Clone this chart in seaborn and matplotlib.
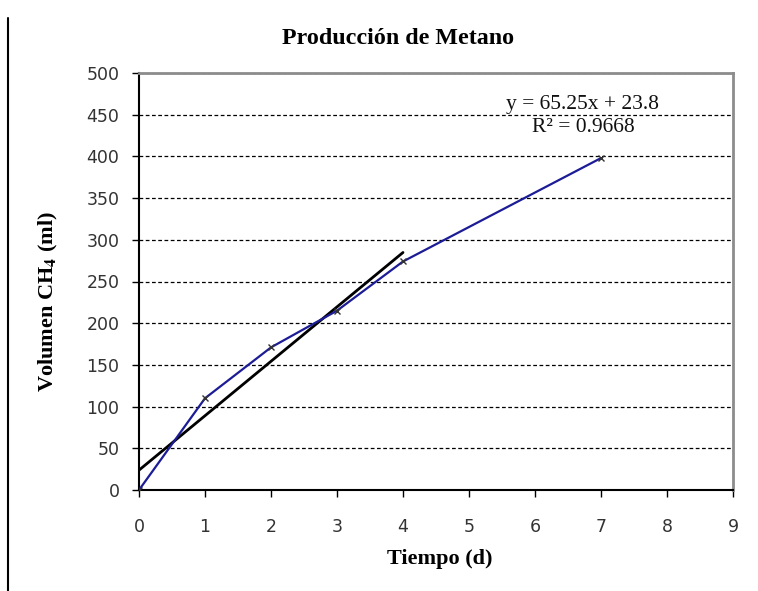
import numpy as np
import pandas as pd
import seaborn as sns
import matplotlib
matplotlib.use("Agg")
import matplotlib.pyplot as plt
from matplotlib.lines import Line2D

# Data
tiempo = [0, 1, 2, 3, 4, 7]
volumen = [0, 110, 171, 215, 274, 398]
fit_slope = 65.25
fit_intercept = 23.8
fit_r2 = 0.9668
fit_x_range = [0, 4]
x_ticks = list(range(0, 10))
y_ticks = list(range(0, 501, 50))

title = "Producción de Metano"
xlabel = "Tiempo (d)"
ylabel = r"Volumen CH$_\mathbf{4}$ (ml)"

sns.set_theme(style="white")
plt.rcParams['font.family'] = ['DejaVu Sans']
plt.rcParams['text.color'] = 'black'
plt.rcParams['axes.labelcolor'] = 'black'
plt.rcParams['mathtext.fontset'] = 'stix'

fig = plt.figure(figsize=(7.58, 5.91), dpi=100)
ax = fig.add_axes([139/758, 1-490/591, (733-139)/758, (490-73)/591])

df = pd.DataFrame({"t": tiempo, "v": volumen})
fit_x = np.array(fit_x_range, dtype=float)
fit_df = pd.DataFrame({"t": fit_x, "v": fit_slope * fit_x + fit_intercept})

sns.lineplot(data=fit_df, x="t", y="v", ax=ax, color="black", linewidth=2.0, zorder=3)
sns.lineplot(data=df, x="t", y="v", ax=ax, color="#1c1c96", linewidth=1.6,
             marker="x", markersize=5, markeredgecolor="#333333", markeredgewidth=1.0, zorder=4)

ax.set_xlim(0, 9)
ax.set_ylim(0, 500)
ax.set_xticks(x_ticks)
ax.set_yticks(y_ticks)
ax.set_xticklabels([str(v) for v in x_ticks], fontsize=12.5, color="#333333")
ax.set_yticklabels([str(v) for v in y_ticks], fontsize=12.5, color="#333333")
ax.tick_params(axis="y", direction="out", length=5, width=1, color="black", pad=9, left=True)
ax.tick_params(axis="x", direction="out", length=5, width=1, color="black", pad=15, bottom=True)

ax.yaxis.grid(True, linestyle=(0, (3, 2)), color="black", linewidth=0.9)
ax.xaxis.grid(False)
ax.set_axisbelow(True)

for side in ["left", "bottom"]:
    ax.spines[side].set_color("black")
    ax.spines[side].set_linewidth(1.5)
for side in ["top", "right"]:
    ax.spines[side].set_color("#8c8c8c")
    ax.spines[side].set_linewidth(2.0)
    ax.spines[side].set_visible(True)

ax.set_xlabel(xlabel, fontsize=16, fontweight="bold", family="Liberation Serif", color="black")
ax.set_ylabel(ylabel, fontsize=16, fontweight="bold", family="Liberation Serif", color="black")
ax.xaxis.set_label_coords((440-139)/594, (490-549)/417)
ax.yaxis.set_label_coords((60-139)/594, (490-302)/417)

fig.text(398/758, 1-38/591, title, ha="center", va="center", fontsize=17.3,
         fontweight="bold", family="Liberation Serif", color="black")

ax.text((583-139)/594, (490-104)/417, f"y = {fit_slope}x + {fit_intercept}", transform=ax.transAxes,
        ha="center", va="center", fontsize=15.5, family="Liberation Serif", color="#111111")
ax.text((583-139)/594, (490-128)/417, f"R² = {fit_r2}", transform=ax.transAxes,
        ha="center", va="center", fontsize=15.5, family="Liberation Serif", color="#111111")

# page margin line at left
fig.add_artist(Line2D([8/758, 8/758], [0, 1-18/591], transform=fig.transFigure,
                      color="black", linewidth=1.5))

fig.savefig("out.png", dpi=100)
